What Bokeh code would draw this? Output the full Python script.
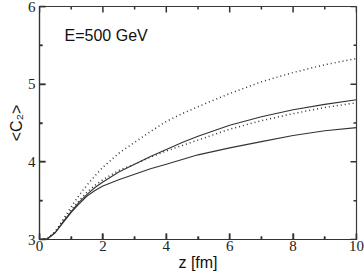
import numpy as np
from bokeh.plotting import figure
from bokeh.models import LinearAxis, Label, Range1d, FixedTicker, Title
from bokeh.embed import file_html
from bokeh.resources import INLINE

# data
z = [0, 0.25, 0.5, 0.75, 1, 1.25, 1.5, 1.75, 2, 2.5, 3, 3.5, 4, 4.5, 5, 6, 7, 8, 9, 10]
dotted_upper = [3.0, 3.01, 3.10, 3.26, 3.42, 3.57, 3.70, 3.82, 3.93, 4.11, 4.25, 4.39, 4.52, 4.62, 4.71, 4.88, 5.03, 5.15, 5.25, 5.33]
solid_upper = [3.0, 3.01, 3.09, 3.23, 3.36, 3.48, 3.58, 3.67, 3.74, 3.87, 3.97, 4.07, 4.16, 4.25, 4.33, 4.47, 4.58, 4.67, 4.74, 4.80]
dotted_lower = [3.0, 3.01, 3.10, 3.25, 3.38, 3.50, 3.61, 3.70, 3.77, 3.89, 3.97, 4.06, 4.14, 4.21, 4.28, 4.42, 4.53, 4.62, 4.70, 4.76]
solid_lower = [3.0, 3.01, 3.09, 3.22, 3.35, 3.46, 3.56, 3.63, 3.69, 3.77, 3.84, 3.91, 3.97, 4.03, 4.09, 4.18, 4.26, 4.34, 4.40, 4.44]

x_major = [0, 2, 4, 6, 8, 10]
x_minor = [1, 3, 5, 7, 9]
y_major = [3, 4, 5, 6]
y_minor = [3.5, 4.5, 5.5]
x_lo, x_hi = 0, 10
y_lo, y_hi = 3, 6
title_text = "E=500 GeV"
xlabel = "z [fm]"
ylabel = "<C\u2082>"

W, H = 364, 273
p = figure(width=W, height=H, output_backend="svg", toolbar_location=None,
           x_range=Range1d(x_lo, x_hi), y_range=Range1d(y_lo, y_hi),
           min_border_left=39, min_border_right=8, min_border_top=6, min_border_bottom=31,
           x_axis_location=None, y_axis_location=None)
p.grid.visible = False
p.outline_line_color = "#3a3a3a"
p.outline_line_width = 1.2

tick_font = "Liberation Serif"
sans = "Liberation Sans"
axcol = "#333333"

# tick marks, inward on all four sides, drawn with screen-length rays
tc, tw = "#333333", 1.5
major_len, minor_len = 6, 3
for xs, ln in ((x_major, major_len), (x_minor, minor_len)):
    p.ray(x=xs, y=[y_lo] * len(xs), length=ln, length_units="screen", angle=np.pi / 2,
          line_color=tc, line_width=tw)
    p.ray(x=xs, y=[y_hi] * len(xs), length=ln, length_units="screen", angle=-np.pi / 2,
          line_color=tc, line_width=tw)
for ys, ln in ((y_major, major_len), (y_minor, minor_len)):
    p.ray(x=[x_lo] * len(ys), y=ys, length=ln, length_units="screen", angle=0,
          line_color=tc, line_width=tw)
    p.ray(x=[x_hi] * len(ys), y=ys, length=ln, length_units="screen", angle=np.pi,
          line_color=tc, line_width=tw)

lc = "#333333"
p.line(z, dotted_upper, line_color=lc, line_width=1.5, line_dash="1 3")
p.line(z, solid_upper, line_color=lc, line_width=1.1)
p.line(z, dotted_lower, line_color=lc, line_width=1.5, line_dash="1 3")
p.line(z, solid_lower, line_color=lc, line_width=1.1)

def style_axis(ax, major, minor):
    ax.ticker = FixedTicker(ticks=major, minor_ticks=minor)
    ax.axis_line_color = axcol
    ax.axis_line_width = 1.2
    ax.major_tick_line_color = axcol
    ax.minor_tick_line_color = axcol
    ax.major_tick_line_width = 1.5
    ax.minor_tick_line_width = 1.5
    ax.major_tick_in = major_len
    ax.minor_tick_in = minor_len
    ax.major_tick_out = 0
    ax.minor_tick_out = 0
    ax.major_label_text_font = tick_font
    ax.major_label_text_font_size = "15px"
    ax.major_label_text_color = "#222222"

xb = LinearAxis(); style_axis(xb, x_major, x_minor)
xb.axis_label = xlabel
xb.axis_label_text_font = sans
xb.axis_label_text_font_style = "normal"
xb.axis_label_text_font_size = "16px"
xb.axis_label_text_color = "#111111"
xb.axis_label_standoff = 0
xb.major_label_standoff = 1
p.add_layout(xb, "below")

yl = LinearAxis(); style_axis(yl, y_major, y_minor)
yl.major_label_standoff = 4
p.add_layout(yl, "left")

p.add_layout(Title(text=ylabel, align="center", offset=62, standoff=0,
                   text_font=sans, text_font_size="16px", text_font_style="normal",
                   text_color="#111111"), "left")

p.add_layout(Label(x=0.79, y=5.63, text=title_text, text_font=sans, text_font_size="16px",
                   text_color="#111111", text_baseline="alphabetic", text_align="left"))

open("out.html", "w").write(file_html(p, INLINE))
